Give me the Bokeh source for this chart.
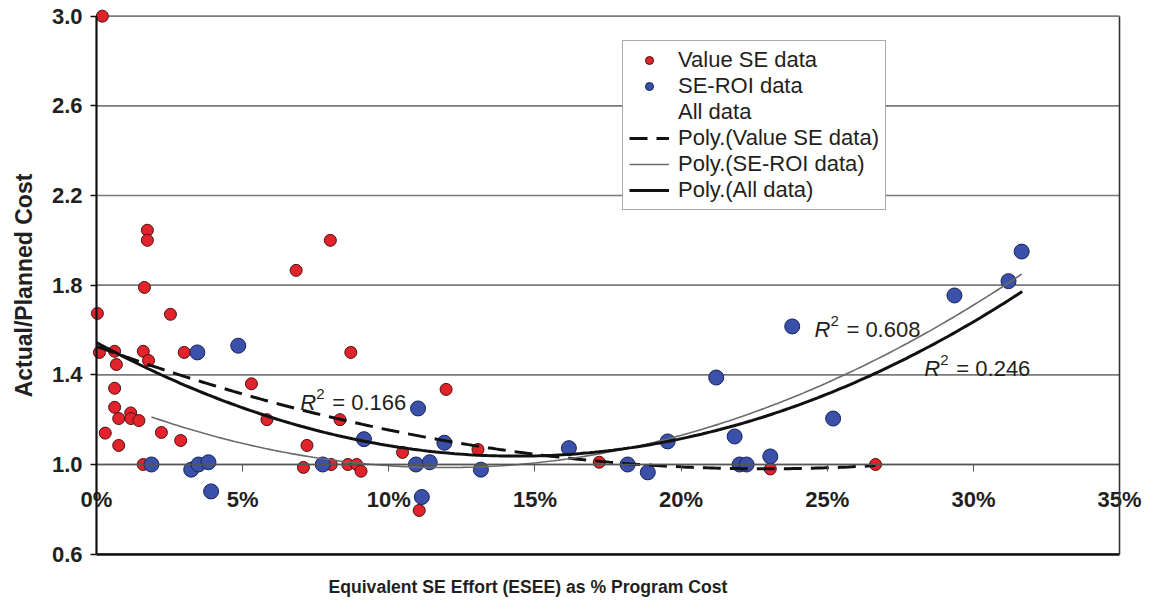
import numpy as np
from bokeh.plotting import figure
from bokeh.models import (FixedTicker, PrintfTickFormatter, Legend, LegendItem,
                          Label, Title, LinearAxis, Grid)
from bokeh.embed import file_html
from bokeh.resources import INLINE

# ---------------- data (x in % of program cost, y = actual/planned cost) -------------
value_se_x = [0.2, 1.74, 1.74, 8.0, 6.83, 1.64, 0.03, 2.53, 0.1, 0.62, 1.6, 1.78, 0.68,
              3.0, 8.7, 5.3, 0.62, 0.62, 1.17, 0.76, 1.18, 1.45, 5.83, 8.33, 0.3, 2.22,
              2.88, 0.76, 7.2, 11.96, 1.6, 7.08, 8.03, 8.6, 8.9, 9.05, 10.47, 11.04,
              13.05, 17.2, 23.05, 26.65]
value_se_y = [3.0, 2.045, 2.0, 2.0, 1.866, 1.79, 1.674, 1.67, 1.5, 1.505, 1.505, 1.464,
              1.446, 1.5, 1.5, 1.36, 1.34, 1.255, 1.23, 1.205, 1.205, 1.196, 1.2, 1.2,
              1.14, 1.143, 1.107, 1.085, 1.085, 1.335, 1.0, 0.987, 1.0, 1.0, 1.0, 0.97,
              1.054, 0.795, 1.067, 1.01, 0.98, 1.0]

se_roi_x = [3.45, 4.85, 11.0, 9.15, 11.9, 1.88, 3.24, 3.49, 3.83, 3.92, 7.74, 10.93,
            11.4, 11.13, 13.15, 16.16, 18.17, 18.86, 19.54, 21.2, 21.83, 22.0, 22.24,
            23.05, 25.2, 23.8, 29.35, 31.2, 31.65]
se_roi_y = [1.5, 1.53, 1.25, 1.113, 1.097, 1.0, 0.977, 1.0, 1.01, 0.88, 1.0, 1.0,
            1.01, 0.855, 0.977, 1.073, 1.0, 0.965, 1.103, 1.388, 1.125, 1.0, 1.0,
            1.036, 1.205, 1.616, 1.754, 1.818, 1.95]

# polynomial trend lines
poly_value_x = [0.0, 1.16, 3.55, 6.63, 9.8, 13.1, 15.2, 19.95, 21.3, 24.5, 26.65]
poly_value_y = [1.52, 1.478, 1.375, 1.254, 1.165, 1.077, 1.04, 0.99, 0.982, 0.986, 0.995]

poly_roi_x = [1.88, 4.34, 7.3, 11.0, 15.0, 18.6, 22.0, 25.66, 31.65]
poly_roi_y = [1.21, 1.125, 1.03, 0.975, 1.018, 1.085, 1.214, 1.40, 1.85]

poly_all_x = [0.0, 2.07, 5.7, 10.04, 14.9, 19.5, 22.0, 25.2, 26.8, 31.67]
poly_all_y = [1.53, 1.433, 1.219, 1.076, 1.03, 1.10, 1.19, 1.317, 1.433, 1.763]

r2_values = ["0.166", "0.608", "0.246"]
r2_pos_x = [6.97, 24.56, 28.32]
r2_pos_y = [1.277, 1.603, 1.429]

x_ticks = [0, 5, 10, 15, 20, 25, 30, 35]
y_ticks = [0.6, 1.0, 1.4, 1.8, 2.2, 2.6, 3.0]
x_min, x_max = 0, 35
y_min, y_max = 0.6, 3.0
x_cross = 1.0   # value axis crosses here

legend_labels = ["Value SE data", "SE-ROI data", "All data",
                 "Poly.(Value SE data)", "Poly.(SE-ROI data)", "Poly.(All data)"]

FONT = "Liberation Sans"
TXT = "#231f20"

# ---------------- figure (frame covers the page so outer labels are not clipped) ----
p = figure(frame_width=1146, frame_height=565,
           x_range=(-3.284, 35.92), y_range=(0.5494, 3.0699),
           x_axis_location=None, y_axis_location=None,
           output_backend="svg", toolbar_location=None, title=None,
           min_border_left=0, min_border_top=0, min_border_right=0,
           min_border_bottom=35)
p.background_fill_color = "white"
p.border_fill_color = "white"
p.outline_line_color = None
for r in list(p.center):
    if isinstance(r, Grid):
        r.visible = False

# horizontal grid lines at the y ticks, across the plot area
p.segment(x0=x_min, x1=x_max, y0=y_ticks, y1=y_ticks,
          line_color="#7a7a7a", line_width=1.6)

# box: right edge and bottom edge
right_edge = LinearAxis(fixed_location=x_max, bounds=(y_min, y_max),
                        ticker=FixedTicker(ticks=[]), axis_line_color="#333333",
                        axis_line_width=1.6)
p.add_layout(right_edge, "right")
bottom_edge = LinearAxis(fixed_location=y_min, bounds=(x_min, x_max),
                         ticker=FixedTicker(ticks=[]), axis_line_color="#111111",
                         axis_line_width=2.6)
p.add_layout(bottom_edge, "below")

# x axis crossing at y = 1.0
xa = LinearAxis(fixed_location=x_cross, bounds=(x_min, x_max))
xa.ticker = FixedTicker(ticks=x_ticks)
xa.formatter = PrintfTickFormatter(format="%d%%")
xa.axis_line_color = "#555555"
xa.axis_line_width = 1.5
xa.major_tick_line_color = "#555555"
xa.major_tick_out = 7
xa.major_tick_in = 0
xa.minor_tick_line_color = None
xa.major_label_standoff = 16
xa.major_label_text_font = FONT
xa.major_label_text_font_size = "22px"
xa.major_label_text_font_style = "bold"
xa.major_label_text_color = TXT
p.add_layout(xa, "below")

ya = LinearAxis(fixed_location=x_min, bounds=(y_min, y_max))
ya.ticker = FixedTicker(ticks=y_ticks)
ya.formatter = PrintfTickFormatter(format="%.1f")
ya.axis_line_color = "#111111"
ya.axis_line_width = 2.2
ya.major_tick_line_color = "#111111"
ya.major_tick_line_width = 1.5
ya.major_tick_out = 6
ya.major_tick_in = 0
ya.minor_tick_line_color = None
ya.major_label_standoff = 8
ya.major_label_text_font = FONT
ya.major_label_text_font_size = "22px"
ya.major_label_text_font_style = "bold"
ya.major_label_text_color = TXT
ya.axis_label = "Actual/Planned Cost"
ya.axis_label_text_font = FONT
ya.axis_label_text_font_size = "23px"
ya.axis_label_text_font_style = "bold"
ya.axis_label_text_color = TXT
ya.axis_label_standoff = 12
p.add_layout(ya, "left")

# ---------------- points ----------------
r_red = p.scatter(value_se_x, value_se_y, size=12, fill_color="#e3232b",
                  line_color="#4d0f10", line_width=1)
r_blue = p.scatter(se_roi_x, se_roi_y, size=15, fill_color="#3b51a9",
                   line_color="#18225a", line_width=1)
r_all = p.scatter(x=[], y=[], size=1, fill_alpha=0, line_alpha=0)

# ---------------- polynomial trend lines ----------------
def trend(xs, ys):
    c = np.polyfit(xs, ys, 2)
    xx = np.linspace(min(xs), max(xs), 200)
    return xx, np.polyval(c, xx)

vx, vy = trend(poly_value_x, poly_value_y)
rx, ry = trend(poly_roi_x, poly_roi_y)
ax, ay = trend(poly_all_x, poly_all_y)

r_pv = p.line(vx, vy, line_color="#111111", line_width=3, line_dash="18 9")
r_pr = p.line(rx, ry, line_color="#6a6a6a", line_width=1.6)
r_pa = p.line(ax, ay, line_color="#111111", line_width=3)

# ---------------- R^2 labels ----------------
for val, lx, ly in zip(r2_values, r2_pos_x, r2_pos_y):
    common = dict(x=lx, y=ly, text_font=FONT, text_color=TXT, text_baseline="alphabetic")
    p.add_layout(Label(text="R", text_font_size="22px", text_font_style="italic", **common))
    p.add_layout(Label(text="2", text_font_size="15px", x_offset=16, y_offset=8, **common))
    p.add_layout(Label(text="= " + val, text_font_size="22px", x_offset=32, **common))

# ---------------- legend ----------------
renderers = [r_red, r_blue, r_all, r_pv, r_pr, r_pa]
items = [LegendItem(label=lab, renderers=[r]) for lab, r in zip(legend_labels, renderers)]
legend = Legend(items=items, location=(622, 355), orientation="vertical",
                label_text_font=FONT, label_text_font_size="22px", label_text_color=TXT,
                glyph_width=40, glyph_height=20, label_height=21, label_standoff=9,
                spacing=0, padding=6, margin=0,
                border_line_color="#555555", border_line_width=1.3,
                background_fill_color="white", background_fill_alpha=1.0)
p.add_layout(legend, "center")

# ---------------- x axis title (below the frame) ----------------
xt = Title(text="Equivalent SE Effort (ESEE) as % Program Cost", align="left", offset=328,
           text_font=FONT, text_font_size="17.6px", text_font_style="bold",
           text_color=TXT, standoff=18)
p.add_layout(xt, "below")

open("out.html", "w").write(file_html(p, INLINE))
